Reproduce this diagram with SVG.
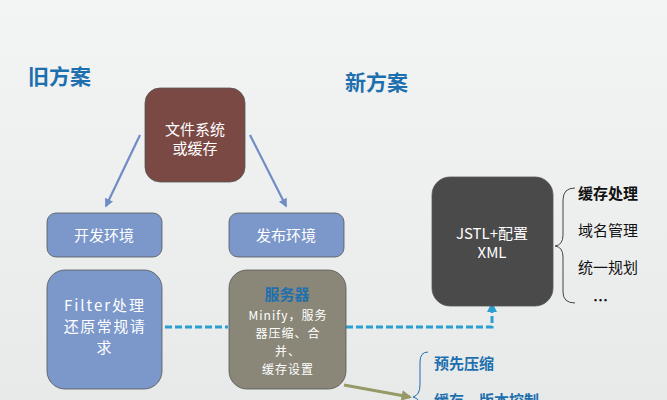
<svg xmlns="http://www.w3.org/2000/svg" width="667" height="400" viewBox="0 0 667 400">
<defs>
<style>
.t{font-family:"Noto Sans CJK SC","Liberation Sans",sans-serif;}
.title{font-size:21px;font-weight:bold;fill:#1d6fae;}
.wt{font-size:15px;fill:#ffffff;text-anchor:middle;}
.sv{font-size:12px;fill:#ffffff;text-anchor:middle;letter-spacing:1px;}
.bk{font-size:15px;fill:#111111;}
.bl{font-size:15px;fill:#1d6fae;font-weight:bold;}
.node{stroke:#555;stroke-width:0.8;}
.arr{stroke:#6f8cc4;stroke-width:2.2;fill:none;}
.dash{stroke:#2a9fd0;stroke-width:3;stroke-dasharray:7,3;fill:none;}
</style>
<linearGradient id="bg" x1="0" y1="0" x2="0" y2="1">
<stop offset="0" stop-color="#f3f4f4"/>
<stop offset="1" stop-color="#e8eaea"/>
</linearGradient>
<marker id="ab" viewBox="0 0 10 10" refX="8" refY="5" markerWidth="4" markerHeight="4" orient="auto"><path d="M0,0 L10,5 L0,10 z" fill="#6f8cc4"/></marker>
<marker id="ac" viewBox="0 0 10 10" refX="8" refY="5" markerWidth="3.5" markerHeight="3.5" orient="auto"><path d="M0,0 L10,5 L0,10 z" fill="#2a9fd0"/></marker>
<marker id="ao" viewBox="0 0 10 10" refX="8" refY="5" markerWidth="3.5" markerHeight="3.5" orient="auto"><path d="M0,0 L10,5 L0,10 z" fill="#959a66"/></marker>
</defs>
<rect width="667" height="400" fill="url(#bg)"/>
<text class="t title" x="28" y="84">旧方案</text>
<text class="t title" x="345" y="90">新方案</text>
<g id="connectors">
<line class="arr" x1="140" y1="135" x2="106" y2="206" marker-end="url(#ab)"/>
<line class="arr" x1="250" y1="135" x2="286" y2="206" marker-end="url(#ab)"/>
<line class="dash" x1="165" y1="327" x2="228" y2="327"/>
<polyline class="dash" points="346,327 492,327 492,304" marker-end="url(#ac)"/>
<line x1="344" y1="385" x2="410" y2="397" stroke="#959a66" stroke-width="3" marker-end="url(#ao)"/>
</g>
<g id="n-fs">
<rect class="node" x="145" y="88" width="100" height="94" rx="15" fill="#7b4943"/>
<text class="t wt" x="195" y="135">文件系统</text>
<text class="t wt" x="195" y="154">或缓存</text>
</g>
<g id="n-dev">
<rect class="node" x="47" y="213" width="115" height="44" rx="9" fill="#7c97ca"/>
<text class="t wt" x="104" y="241">开发环境</text>
</g>
<g id="n-pub">
<rect class="node" x="229" y="213" width="115" height="44" rx="9" fill="#7c97ca"/>
<text class="t wt" x="286" y="241">发布环境</text>
</g>
<g id="n-filter">
<rect class="node" x="47" y="270" width="115" height="119" rx="18" fill="#7c97ca"/>
<text class="t wt" x="105" y="311" letter-spacing="2">Filter处理</text>
<text class="t wt" x="105" y="332" letter-spacing="1.5">还原常规请</text>
<text class="t wt" x="104" y="353">求</text>
</g>
<g id="n-server">
<rect class="node" x="229" y="270" width="117" height="119" rx="18" fill="#8a8779"/>
<text class="t" x="287" y="300" text-anchor="middle" font-size="15" font-weight="bold" fill="#1d6fae">服务器</text>
<text class="t sv" x="288" y="320">Minify，服务</text>
<text class="t sv" x="288" y="338">器压缩、合</text>
<text class="t sv" x="288" y="356">并、</text>
<text class="t sv" x="288" y="374">缓存设置</text>
</g>
<g id="n-jstl">
<rect class="node" x="432" y="177" width="121" height="129" rx="18" fill="#4a4a4a" stroke="#222"/>
<text class="t wt" x="492" y="239" font-size="14">JSTL+配置</text>
<text class="t wt" x="492" y="258" font-size="12">XML</text>
</g>
<g id="list">
<path d="M575,188 Q563,188 563,200 L563,235 Q563,245 555,246 Q563,247 563,257 L563,292 Q563,303 575,303" fill="none" stroke="#444" stroke-width="1"/>
<text class="t bk" x="578" y="199" font-weight="bold">缓存处理</text>
<text class="t bk" x="578" y="236">域名管理</text>
<text class="t bk" x="578" y="273">统一规划</text>
<text class="t bk" x="593" y="306" font-weight="bold">…</text>
</g>
<g id="list2">
<path d="M428,352 Q420,352 420,362 L420,385 Q420,395 413,397 Q420,399 420,405" fill="none" stroke="#1d6fae" stroke-width="1"/>
<text class="t bl" x="434" y="369">预先压缩</text>
<text class="t bl" x="434" y="406">缓存、版本控制</text>
</g>
</svg>
